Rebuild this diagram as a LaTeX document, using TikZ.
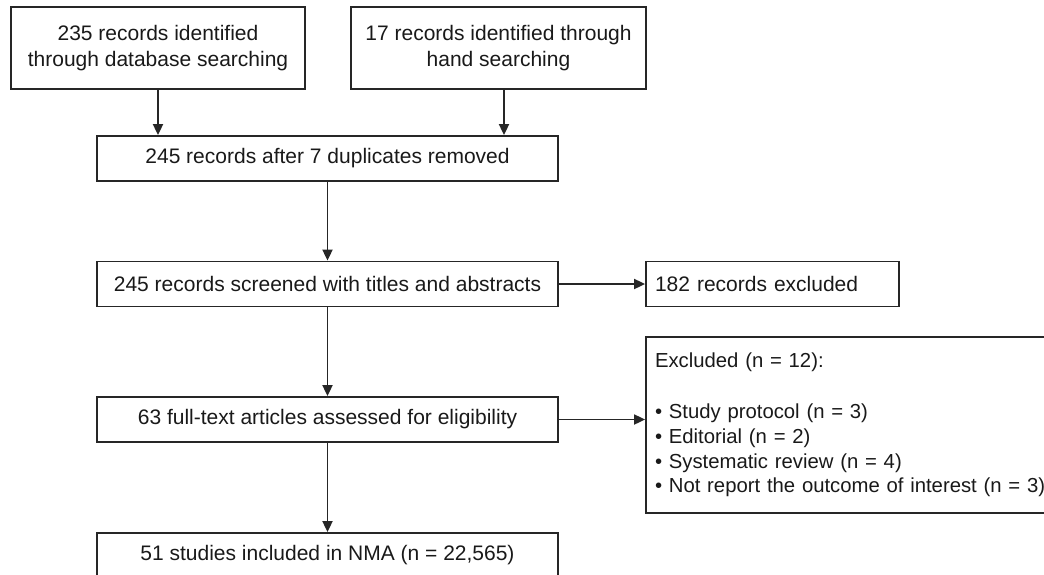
\documentclass[tikz,border=0pt]{standalone}
\usepackage{fontspec}
\setmainfont{Liberation Sans}
\usetikzlibrary{arrows.meta,calc}
\begin{document}
\begin{tikzpicture}[x=0.5pt,y=-0.5pt,
  box/.style={draw=black!85, line width=0.9pt, inner sep=0pt, minimum height=22.5pt,
    text=black!90, font=\fontsize{10.5}{13}\selectfont, align=center},
  leftbox/.style={box, align=left, inner xsep=4.5pt},
  arr/.style={draw=black!85, line width=0.9pt, -{Triangle[length=5.5pt,width=5pt]}}]
\useasboundingbox (0,0) rectangle (1044,574);
\clip (0,0) rectangle (1044,574);
\node[box, minimum width=147pt, minimum height=41pt] (b1) at (158,48)
  {235 records identified\\through database searching};
\node[box, minimum width=147.5pt, minimum height=41pt] (b2) at (498.5,48)
  {17 records identified through\\hand searching};
\node[box, minimum width=230.5pt] (b3) at (327.5,158.5)
  {245 records after 7 duplicates removed};
\node[box, minimum width=230.5pt] (b4) at (327.5,284)
  {245 records screened with titles and abstracts};
\node[leftbox, text width=117.5pt] (b5) at (772.5,284)
  {182 records excluded};
\node[box, minimum width=230.5pt] (b6) at (327.5,419.5)
  {63 full-text articles assessed for eligibility};
\node[box, minimum width=230.5pt] (b7) at (327.5,555.5)
  {51 studies included in NMA (n = 22,565)};
\node[leftbox, text width=205pt, minimum height=88pt,
  font=\fontsize{10.15}{12.4}\selectfont] (ex) at (860,425)
  {Excluded (n = 12):\\[13pt]
   • Study protocol (n = 3)\\
   • Editorial (n = 2)\\
   • Systematic review (n = 4)\\
   • Not report the outcome of interest (n = 3)};
\draw[arr] (b1.south) -- (b1.south |- b3.north);
\draw[arr] ([xshift=2.75pt]b2.south) -- ([xshift=2.75pt]b2.south |- b3.north);
\draw[arr] (b3) -- (b4);
\draw[arr] (b4) -- (b5);
\draw[arr] (b4) -- (b6);
\draw[arr] (b6) -- (b7);
\draw[arr] (b6.east) -- (b6.east -| ex.west);
\end{tikzpicture}
\end{document}
